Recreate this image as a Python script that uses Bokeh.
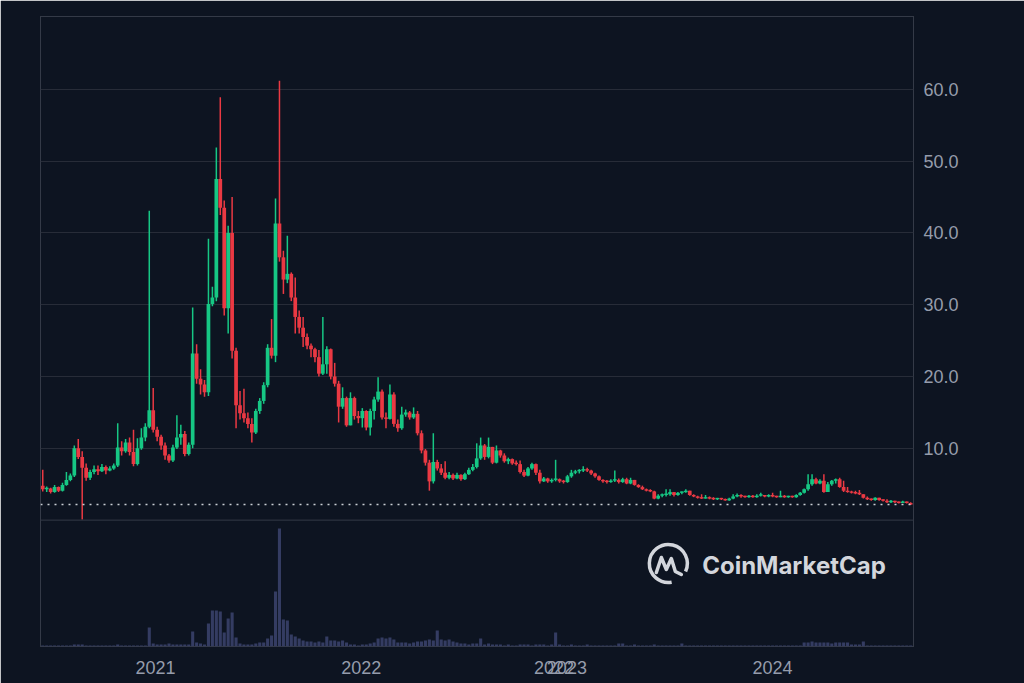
import pandas as pd
from bokeh.plotting import figure
from bokeh.models import (Range1d, FixedTicker, NumeralTickFormatter, Span, Label,
                          ColumnDataSource)
from bokeh.embed import file_html
from bokeh.resources import INLINE

# ---------------- data (weekly candles) ----------------
first_open = 4.8
close = [
    4.3, 4.4, 3.9, 4.6, 4.1, 4.9, 5.6, 6.2, 10.0, 8.8,
    7.3, 5.9, 6.7, 7.1, 6.8, 7.4, 6.9, 7.2, 7.6, 10.1,
    9.6, 10.8, 9.5, 7.8, 10.0, 11.5, 13.0, 15.3, 12.6, 11.6,
    10.4, 9.0, 8.3, 10.1, 11.5, 12.0, 9.2, 10.5, 23.2, 19.7,
    18.9, 17.8, 30.1, 31.0, 47.5, 43.5, 29.5, 40.0, 23.6, 16.0,
    14.9, 14.2, 13.4, 12.2, 15.2, 16.6, 18.8, 24.0, 22.9, 41.3,
    36.6, 33.5, 34.3, 31.0, 28.3, 26.8, 25.5, 24.3, 23.8, 22.7,
    20.4, 21.7, 23.8, 20.0, 19.0, 15.8, 17.0, 13.2, 17.0, 14.5,
    14.2, 15.2, 12.9, 15.2, 16.8, 17.9, 14.3, 14.1, 17.5, 13.4,
    12.8, 14.7, 15.0, 14.3, 14.8, 12.1, 9.7, 8.0, 5.4, 8.1,
    7.2, 6.6, 5.9, 6.3, 5.8, 6.3, 5.7, 6.4, 7.0, 7.4,
    8.6, 10.4, 8.8, 10.2, 8.0, 9.7, 9.0, 8.2, 8.5, 7.9,
    7.8, 6.7, 6.2, 7.2, 7.8, 6.6, 5.4, 5.8, 5.4, 5.6,
    5.7, 5.4, 5.3, 6.1, 6.6, 6.8, 6.9, 7.1, 6.9, 6.5,
    6.1, 5.6, 5.4, 5.3, 5.5, 5.6, 5.3, 5.7, 5.1, 5.6,
    4.9, 4.6, 4.3, 4.1, 4.0, 3.0, 3.4, 3.5, 3.6, 3.9,
    3.5, 3.8, 3.9, 4.1, 3.5, 3.3, 3.1, 3.0, 3.2, 3.0,
    2.9, 3.0, 2.9, 2.75, 3.0, 3.3, 3.5, 3.3, 3.2, 3.4,
    3.2, 3.4, 3.5, 3.3, 3.5, 3.3, 3.2, 3.4, 3.2, 3.3,
    3.2, 3.5, 3.8, 4.3, 5.0, 5.7, 5.1, 5.5, 3.9, 5.0,
    5.5, 5.7, 4.6, 4.1, 3.9, 3.8, 3.7, 3.6, 3.1, 2.9,
    2.8, 3.1, 2.8, 2.7, 2.5, 2.7, 2.5, 2.4, 2.6, 2.4,
    2.17,
]
high = [
    7.0, 4.7, 4.5, 4.9, 4.7, 5.2, 6.7, 6.5, 10.4, 11.3,
    9.6, 7.9, 7.0, 7.6, 7.6, 7.8, 7.6, 7.5, 7.9, 13.5,
    11.0, 11.3, 11.5, 12.6, 11.4, 12.8, 13.5, 43.1, 18.4, 13.0,
    11.9, 10.8, 9.2, 10.5, 14.6, 13.3, 12.4, 10.8, 29.6, 24.5,
    21.0, 19.5, 39.2, 32.5, 51.9, 58.9, 44.5, 41.0, 45.0, 24.0,
    18.0, 18.3, 15.0, 14.2, 15.5, 17.0, 19.2, 24.5, 28.0, 44.8,
    61.2, 37.5, 39.6, 34.5, 33.8, 29.2, 28.3, 26.0, 24.6, 24.0,
    23.7, 28.3, 24.2, 23.9, 21.9, 19.4, 18.5, 17.2, 17.8, 17.2,
    15.2, 15.6, 15.3, 15.5, 17.2, 19.9, 18.2, 15.0, 18.9, 17.8,
    14.0, 15.8, 15.4, 15.2, 15.7, 15.2, 12.5, 9.9, 8.4, 12.1,
    8.4, 7.8, 8.2, 6.7, 6.5, 6.6, 6.4, 6.6, 7.3, 7.8,
    10.7, 11.5, 10.6, 11.5, 10.2, 10.4, 9.8, 9.3, 8.7, 8.6,
    8.3, 8.3, 7.0, 7.4, 8.0, 7.9, 7.0, 6.0, 5.9, 5.8,
    8.4, 5.8, 5.6, 6.3, 7.0, 7.0, 7.1, 7.5, 7.3, 7.0,
    6.6, 6.2, 5.7, 5.6, 5.7, 6.9, 5.8, 5.9, 5.9, 5.9,
    5.6, 5.0, 4.8, 4.4, 4.3, 4.1, 3.6, 3.7, 4.3, 4.3,
    3.9, 3.9, 4.0, 4.3, 4.1, 3.6, 3.4, 3.6, 3.5, 3.3,
    3.2, 3.1, 3.1, 3.0, 3.1, 3.6, 3.7, 3.6, 3.4, 3.5,
    3.5, 3.6, 3.8, 3.5, 3.6, 3.8, 3.4, 4.1, 3.5, 3.4,
    3.4, 3.6, 3.9, 4.4, 6.4, 6.4, 5.9, 5.7, 6.4, 5.3,
    5.6, 5.8, 5.9, 5.5, 4.6, 4.1, 4.1, 4.2, 3.6, 3.3,
    3.0, 3.2, 3.1, 2.9, 2.9, 2.8, 2.7, 2.6, 2.7, 2.6,
    2.5,
]
low = [
    4.0, 3.9, 3.7, 3.8, 3.9, 4.0, 4.8, 5.4, 6.0, 8.5,
    0.1, 5.5, 5.6, 6.4, 6.3, 6.7, 6.4, 6.8, 7.0, 7.4,
    9.0, 9.4, 9.0, 7.5, 7.6, 9.8, 11.0, 12.8, 12.2, 11.0,
    9.8, 8.4, 8.0, 8.1, 9.9, 10.5, 8.9, 9.0, 10.0, 19.0,
    17.5, 17.2, 17.3, 29.8, 30.5, 42.5, 28.5, 26.0, 22.5, 12.8,
    14.0, 13.6, 12.8, 10.8, 12.0, 14.8, 16.2, 18.5, 22.5, 22.0,
    36.0, 31.5, 33.0, 30.5, 26.0, 26.0, 24.1, 23.8, 22.7, 22.0,
    20.0, 20.2, 20.4, 19.6, 18.6, 13.6, 15.5, 13.0, 13.2, 14.0,
    13.5, 12.9, 12.5, 11.8, 14.0, 16.5, 14.0, 12.8, 14.0, 13.0,
    12.3, 12.6, 14.4, 14.0, 14.1, 11.8, 9.3, 7.6, 4.1, 5.1,
    6.9, 6.3, 5.7, 5.7, 5.6, 5.7, 5.5, 5.6, 6.3, 6.8,
    7.2, 8.4, 8.4, 8.6, 7.8, 7.9, 8.7, 8.0, 7.8, 7.7,
    7.6, 6.5, 6.0, 6.1, 7.0, 6.3, 5.1, 5.3, 5.2, 5.2,
    5.4, 5.2, 5.1, 5.2, 5.9, 6.4, 6.5, 6.7, 6.7, 6.3,
    5.9, 5.5, 5.2, 5.1, 5.2, 5.3, 5.1, 5.2, 5.0, 5.0,
    4.8, 4.5, 4.2, 4.0, 3.9, 2.9, 2.9, 3.2, 3.3, 3.4,
    3.3, 3.4, 3.6, 3.8, 3.4, 3.2, 3.0, 2.95, 3.0, 2.9,
    2.8, 2.8, 2.8, 2.7, 2.7, 2.9, 3.2, 3.1, 3.1, 3.1,
    3.1, 3.1, 3.3, 3.2, 3.2, 3.2, 3.1, 3.2, 3.1, 3.1,
    3.1, 3.1, 3.4, 3.7, 4.1, 4.8, 5.0, 5.0, 3.8, 3.9,
    4.8, 5.1, 4.5, 3.9, 3.8, 3.7, 3.6, 3.5, 3.0, 2.8,
    2.7, 2.7, 2.7, 2.6, 2.4, 2.4, 2.4, 2.3, 2.4, 2.3,
    2.1,
]
volume = [
    1, 1, 1, 1, 1, 1, 1, 1, 2, 2,
    2, 1, 1, 1, 1, 1, 1, 1, 1, 2,
    1, 1, 1, 1, 1, 1, 1, 19, 3, 2,
    2, 2, 3, 2, 2, 2, 2, 2, 15, 4,
    3, 2, 23, 36, 36, 35, 14, 28, 34, 9,
    3, 2, 2, 2, 3, 4, 4, 8, 11, 55,
    118, 27, 26, 12, 10, 8, 6, 5, 5, 4,
    5, 4, 10, 6, 6, 5, 6, 4, 2, 2,
    1, 2, 2, 3, 4, 8, 9, 8, 9, 7,
    4, 4, 4, 3, 4, 5, 5, 6, 7, 6,
    16, 7, 6, 7, 5, 4, 3, 3, 2, 3,
    3, 8, 2, 3, 2, 2, 2, 1, 2, 1,
    1, 2, 2, 2, 1, 2, 2, 2, 1, 2,
    14, 2, 1, 1, 2, 1, 1, 1, 2, 1,
    1, 1, 1, 1, 1, 1, 3, 3, 1, 1,
    2, 1, 1, 1, 1, 2, 1, 1, 1, 1,
    1, 1, 3, 1, 1, 1, 1, 1, 1, 1,
    1, 1, 1, 1, 1, 1, 1, 1, 1, 1,
    1, 1, 1, 1, 1, 1, 1, 1, 1, 1,
    1, 1, 1, 4, 4, 5, 4, 4, 4, 4,
    3, 4, 4, 4, 4, 2, 2, 2, 5, 1,
    1, 1, 1, 1, 1, 1, 1, 1, 1, 1,
    1,
]
start_date = "2020-06-15"          # first weekly candle
axis_origin = "2020-01-01"         # x axis counts days from here
year_ticks = [366, 731, 1073, 1096, 1461]
year_labels = ["2021", "2022", "2022", "2023", "2024"]
price_ticks = [10, 20, 30, 40, 50, 60]

# ---------------- styling ----------------
BG = "#0d1421"
UP = "#16c784"
DOWN = "#ea3943"
VOL = "#343c62"
FRAME = "#343a47"
GRID = "#272c38"
TXT = "#959cab"
FONT = "Liberation Sans"

n = len(close)
dates = pd.date_range(start_date, periods=n, freq="7D")
days = list((dates - pd.Timestamp(axis_origin)).days)
opens = [first_open] + close[:-1]

tops, bots, his, los, cols = [], [], [], [], []
for o, c, h, l in zip(opens, close, high, low):
    t, b = max(o, c), min(o, c)
    if t - b < 0.2:
        t = b + 0.2
    tops.append(t)
    bots.append(b)
    his.append(max(h, t))
    los.append(min(l, b))
    cols.append(UP if c >= o else DOWN)

src = ColumnDataSource(dict(x=days, top=tops, bot=bots, hi=his, lo=los, color=cols, vol=volume))

p = figure(width=1024, height=683, output_backend="svg", toolbar_location=None,
           x_range=Range1d(162, 1711), y_range=Range1d(-17.6, 70.14),
           y_axis_location="right",
           background_fill_color=BG, border_fill_color=BG,
           min_border_left=40, min_border_right=111, min_border_top=16, min_border_bottom=37)
p.extra_y_ranges = {"volume": Range1d(0, 630)}
p.outline_line_color = FRAME
p.outline_line_width = 1

# volume bars
p.vbar(x="x", top="vol", bottom=0, width=5.5, source=src, y_range_name="volume",
       fill_color=VOL, line_color=None)

# candles
p.segment(x0="x", y0="lo", x1="x", y1="hi", line_color="color", line_width=1.5, source=src)
p.vbar(x="x", top="top", bottom="bot", width=6.6, fill_color="color", line_color=None, source=src)

# divider between price and volume panes
p.add_layout(Span(location=0, dimension="width", line_color=FRAME, line_width=1))
# current price dotted line
p.add_layout(Span(location=close[-1], dimension="width", line_color="#c9cdd4",
                  line_width=1.6, line_dash="2 5"))

# axes
ya = p.yaxis[0]
ya.ticker = FixedTicker(ticks=price_ticks)
ya.formatter = NumeralTickFormatter(format="0.0")
ya.axis_line_color = None
ya.major_tick_line_color = None
ya.minor_tick_line_color = None
ya.major_tick_out = 0
ya.minor_tick_out = 0
ya.major_label_standoff = 10
ya.major_label_text_color = TXT
ya.major_label_text_font = FONT
ya.major_label_text_font_size = "18px"

xa = p.xaxis[0]
xa.ticker = FixedTicker(ticks=year_ticks)
xa.major_label_overrides = {t: s for t, s in zip(year_ticks, year_labels)}
xa.axis_line_color = None
xa.major_tick_line_color = None
xa.minor_tick_line_color = None
xa.major_tick_out = 0
xa.minor_tick_out = 0
xa.major_label_standoff = 14
xa.major_label_text_color = TXT
xa.major_label_text_font = FONT
xa.major_label_text_font_size = "18px"

p.xgrid.visible = False
p.ygrid.grid_line_color = GRID
p.ygrid.grid_line_width = 1

# watermark (logo ring + squiggle + wordmark)
WM = "#d3d6dc"
logo_x, logo_y = 1276, 83
px_day = 1.774
p.arc(x=[logo_x], y=[logo_y], radius=19, radius_units="screen",
      start_angle=-25, end_angle=280, start_angle_units="deg", end_angle_units="deg",
      direction="anticlock", line_color=WM, line_width=3.5, y_range_name="volume")
sq_dx = [-12, -7, -2, 3, 7, 13]
sq_dy = [9, -6, 6, -5, 8, 11]
p.line(x=[logo_x + d * px_day for d in sq_dx], y=[logo_y - d for d in sq_dy],
       line_color=WM, line_width=3.5, line_join="round", line_cap="round",
       y_range_name="volume")
p.add_layout(Label(x=1336, y=81, y_range_name="volume", text="CoinMarketCap",
                   text_font="Inter", text_font_style="bold", text_font_size="24px",
                   text_color=WM, text_baseline="middle", text_align="left"))

open("out.html", "w").write(file_html(p, INLINE))
